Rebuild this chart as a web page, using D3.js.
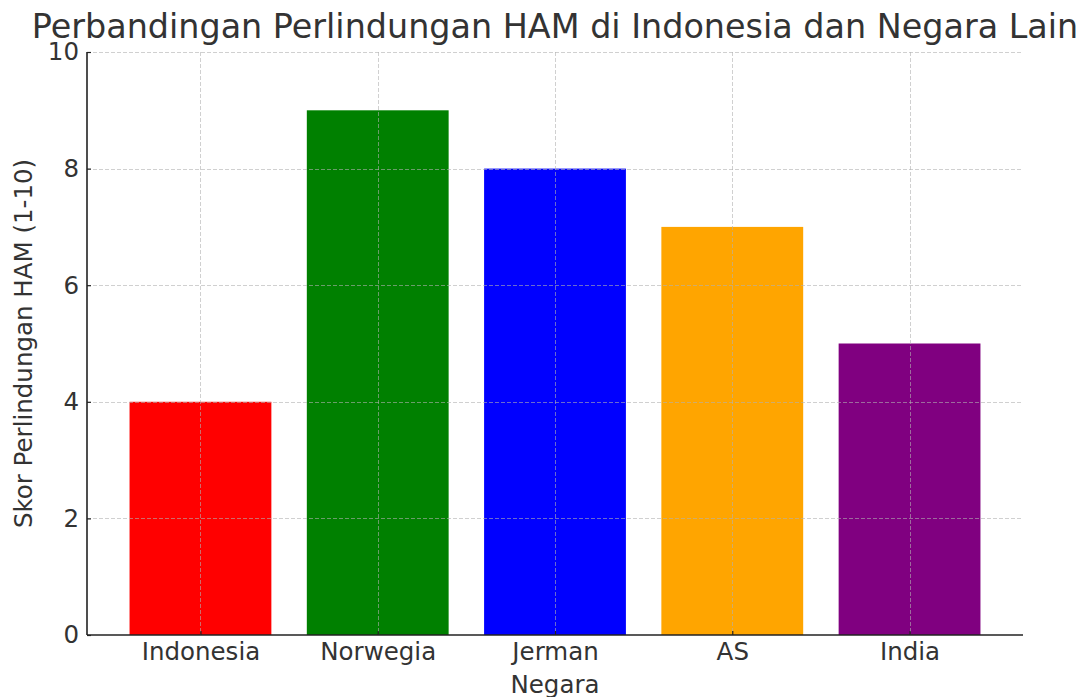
<!DOCTYPE html>
<html><head><meta charset="utf-8">
<script src="https://cdn.jsdelivr.net/npm/d3@7"></script>
<style>body{margin:0;background:#fff}svg{display:block;font-family:"DejaVu Sans",sans-serif}</style>
</head><body><svg id="c" width="1083" height="697"></svg>
<script>
const categories = ["Indonesia","Norwegia","Jerman","AS","India"];
const values = [4,9,8,7,5];
const colors = ["#ff0000","#008000","#0000ff","#ffa500","#800080"];
const yTicks = [0,2,4,6,8,10];
const title = "Perbandingan Perlindungan HAM di Indonesia dan Negara Lain";
const xLabel = "Negara";
const yLabel = "Skor Perlindungan HAM (1-10)";

const svg = d3.select("#c");
const L=87, R=1023, T=52, B=635;
const n = categories.length;
// matplotlib-like band layout: bar width 0.8 per unit, 5% margins
const x = d3.scaleLinear().domain([-0.64, n-1+0.64]).range([L,R]);
const bw = x(0.8)-x(0);
const y = d3.scaleLinear().domain([0,10]).range([B,T]);

// bars
svg.append("g").selectAll("rect").data(values).join("rect")
  .attr("x",(d,i)=>x(i)-bw/2).attr("width",bw)
  .attr("y",d=>y(d)).attr("height",d=>B-y(d))
  .attr("fill",(d,i)=>colors[i]);

// grid on top
const grid = svg.append("g").attr("stroke","#b0b0b0").attr("stroke-opacity",0.6).attr("stroke-dasharray","4,2").attr("stroke-width",1);
grid.selectAll("line.h").data(yTicks.slice(1)).join("line")
  .attr("x1",L).attr("x2",R).attr("y1",d=>Math.round(y(d))+0.5).attr("y2",d=>Math.round(y(d))+0.5);
grid.selectAll("line.v").data(categories).join("line")
  .attr("x1",(d,i)=>Math.round(x(i))+0.5).attr("x2",(d,i)=>Math.round(x(i))+0.5).attr("y1",T).attr("y2",B);

// y axis
const yAxis = d3.axisLeft(y).tickValues(yTicks).tickSize(-4).tickPadding(8);
const gy = svg.append("g").attr("transform",`translate(${L},0)`).call(yAxis);
gy.select(".domain").attr("stroke","#222").attr("stroke-width",1.6).attr("d",`M0,${T}V${B}`);
gy.selectAll(".tick line").attr("stroke","#222").attr("stroke-width",1.2);
gy.selectAll(".tick text").attr("font-size",24.5).attr("fill","#333").attr("font-family","DejaVu Sans");

// x axis
const xs = d3.scalePoint().domain(categories).range([x(0),x(n-1)]);
const xAxis = d3.axisBottom(xs).tickSize(-4).tickPadding(8);
const gx = svg.append("g").attr("transform",`translate(0,${B})`).call(xAxis);
gx.select(".domain").attr("stroke","#222").attr("stroke-width",1.6).attr("d",`M${L},0H${R}`);
gx.selectAll(".tick line").attr("stroke","#222").attr("stroke-width",1.2);
gx.selectAll(".tick text").attr("font-size",24.5).attr("fill","#333").attr("font-family","DejaVu Sans");

svg.append("text").attr("x",(L+R)/2).attr("y",38).attr("text-anchor","middle")
  .attr("font-size",33.4).attr("fill","#333").text(title);
svg.append("text").attr("x",(L+R)/2).attr("y",693).attr("text-anchor","middle")
  .attr("font-size",24.5).attr("fill","#333").text(xLabel);
svg.append("text").attr("transform",`translate(32,${(T+B)/2}) rotate(-90)`).attr("text-anchor","middle")
  .attr("font-size",24.5).attr("fill","#333").text(yLabel);
</script></body></html>
